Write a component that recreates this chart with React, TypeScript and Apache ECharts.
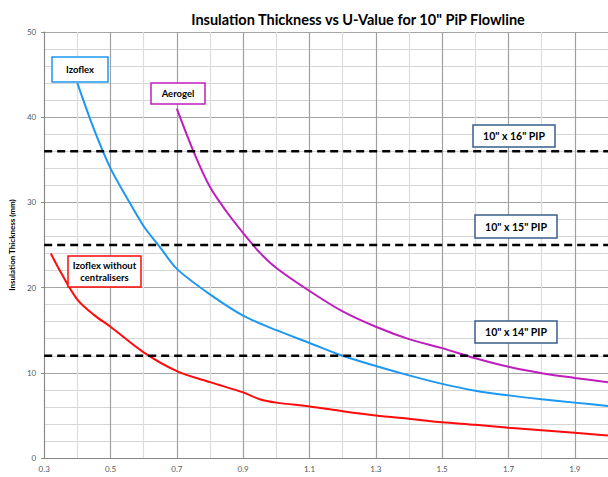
import React, { useEffect, useRef } from "react";
import * as echarts from "echarts";

const FONT = "Lato, 'Open Sans', sans-serif";

const izoflexX = [0.4, 0.45, 0.5, 0.55, 0.6, 0.65, 0.7, 0.8, 0.9, 1.0, 1.1, 1.2, 1.3, 1.4, 1.5, 1.6, 1.7, 1.8, 1.9, 2.0];
const izoflexY = [44, 38.6, 34, 30.5, 27.2, 24.7, 22.2, 19.2, 16.7, 15.0, 13.5, 12.0, 10.8, 9.7, 8.7, 7.9, 7.35, 6.9, 6.5, 6.1];

const aerogelX = [0.7, 0.75, 0.8, 0.85, 0.9, 0.95, 1.0, 1.1, 1.2, 1.3, 1.4, 1.5, 1.6, 1.7, 1.8, 1.9, 2.0];
const aerogelY = [41, 36, 31.8, 28.9, 26.4, 24.1, 22.3, 19.6, 17.2, 15.4, 13.95, 12.9, 11.7, 10.7, 9.95, 9.4, 8.9];

const noCentX = [0.32, 0.35, 0.4, 0.45, 0.5, 0.6, 0.7, 0.8, 0.9, 0.95, 1.0, 1.1, 1.2, 1.3, 1.4, 1.5, 1.6, 1.7, 1.8, 1.9, 2.0];
const noCentY = [24, 21.8, 18.6, 16.8, 15.4, 12.4, 10.2, 8.9, 7.7, 6.9, 6.5, 6.05, 5.5, 5.0, 4.6, 4.2, 3.9, 3.55, 3.25, 2.95, 2.65];

const pipLevels = [36, 25, 12];
const pipLabels = ['10" x 16" PIP', '10" x 15" PIP', '10" x 14" PIP'];
const xRange = [0.3, 2.0];

const zip = (xs: number[], ys: number[]) => xs.map((x, i) => [x, ys[i]]);

function box(x: number, y: number, w: number, h: number, stroke: string, text: string, size = 9.5) {
  return {
    type: "group",
    children: [
      { type: "rect", z: 10, shape: { x, y, width: w, height: h }, style: { fill: "#fff", stroke, lineWidth: 1.5 } },
      {
        type: "text",
        z: 11,
        x: x + w / 2,
        y: y + h / 2,
        style: {
          text,
          fill: "#000",
          font: `bold ${size}px ${FONT}`,
          textAlign: "center",
          textVerticalAlign: "middle",
          lineHeight: 12,
        },
      },
    ],
  };
}

export default function App() {
  const ref = useRef<HTMLDivElement>(null);
  useEffect(() => {
    if (!ref.current) return;
    const chart = echarts.init(ref.current, null, { renderer: "svg" });
    const curveSeries = [
      { name: "Izoflex", x: izoflexX, y: izoflexY, color: "#1C98F2" },
      { name: "Aerogel", x: aerogelX, y: aerogelY, color: "#BE1EBE" },
      { name: "Izoflex without centralisers", x: noCentX, y: noCentY, color: "#FF0A0A" },
    ].map((s) => ({
      type: "line",
      name: s.name,
      data: zip(s.x, s.y),
      smooth: 0.3,
      showSymbol: false,
      lineStyle: { color: s.color, width: 2 },
      z: 3,
    }));
    const pipSeries = pipLevels.map((v, i) => ({
      type: "line",
      name: pipLabels[i],
      data: [[xRange[0], v], [xRange[1], v]],
      showSymbol: false,
      lineStyle: { color: "#000", width: 2.5, type: [8, 5] },
      z: 4,
    }));
    chart.setOption({
      animation: false,
      backgroundColor: "#fff",
      title: {
        text: 'Insulation Thickness vs U-Value for 10" PiP Flowline',
        left: 353,
        textAlign: "center",
        top: 7,
        textStyle: { fontFamily: FONT, fontWeight: "bold", fontSize: 14.5, color: "#000" },
      },
      grid: { left: 35, right: 0, top: 32, bottom: 19, containLabel: false },
      xAxis: {
        type: "value",
        min: xRange[0],
        max: xRange[1],
        interval: 0.1,
        axisLine: { lineStyle: { color: "#888", width: 1 } },
        axisTick: { show: false },
        axisLabel: {
          fontFamily: FONT,
          fontSize: 8,
          color: "#595959",
          margin: 7,
          showMaxLabel: false,
          formatter: (v: number) => (Math.round(v * 10) % 2 === 1 ? v.toFixed(1) : ""),
        },
        splitLine: { show: true, lineStyle: { color: ["#A0A0A0", "#DCDCDC"], width: 1.2 } },
      },
      yAxis: {
        type: "value",
        min: 0,
        max: 50,
        interval: 10,
        name: "Insulation Thickness (mm)",
        nameLocation: "middle",
        nameGap: 23,
        nameTextStyle: { fontFamily: FONT, fontSize: 8, fontWeight: "bold", color: "#000" },
        axisLine: { show: true, lineStyle: { color: "#888", width: 1 } },
        axisTick: { show: true, length: 3, lineStyle: { color: "#888" } },
        axisLabel: { fontFamily: FONT, fontSize: 8, color: "#595959", margin: 8 },
        splitLine: { show: true, lineStyle: { color: "#A6A6A6", width: 1 } },
        minorTick: { show: false, splitNumber: 5 },
        minorSplitLine: { show: true, lineStyle: { color: "#D6D6D6", width: 1 } },
      },
      series: [...curveSeries, ...pipSeries],
      graphic: [
        box(52, 57, 56, 25, "#1C98F2", "Izoflex"),
        box(151, 83, 54, 21, "#BE1EBE", "Aerogel"),
        box(68, 256, 73, 31, "#FF0A0A", "Izoflex without\ncentralisers"),
        box(473, 125, 82, 22, "#385D8A", pipLabels[0], 10.5),
        box(475, 215, 82, 23, "#385D8A", pipLabels[1], 10.5),
        box(475, 321, 82, 22, "#385D8A", pipLabels[2], 10.5),
      ],
    });
    return () => chart.dispose();
  }, []);
  return (
    <div
      ref={ref}
      style={{ position: "fixed", left: 0, top: 0, width: 608, height: 477, background: "#fff" }}
    />
  );
}
